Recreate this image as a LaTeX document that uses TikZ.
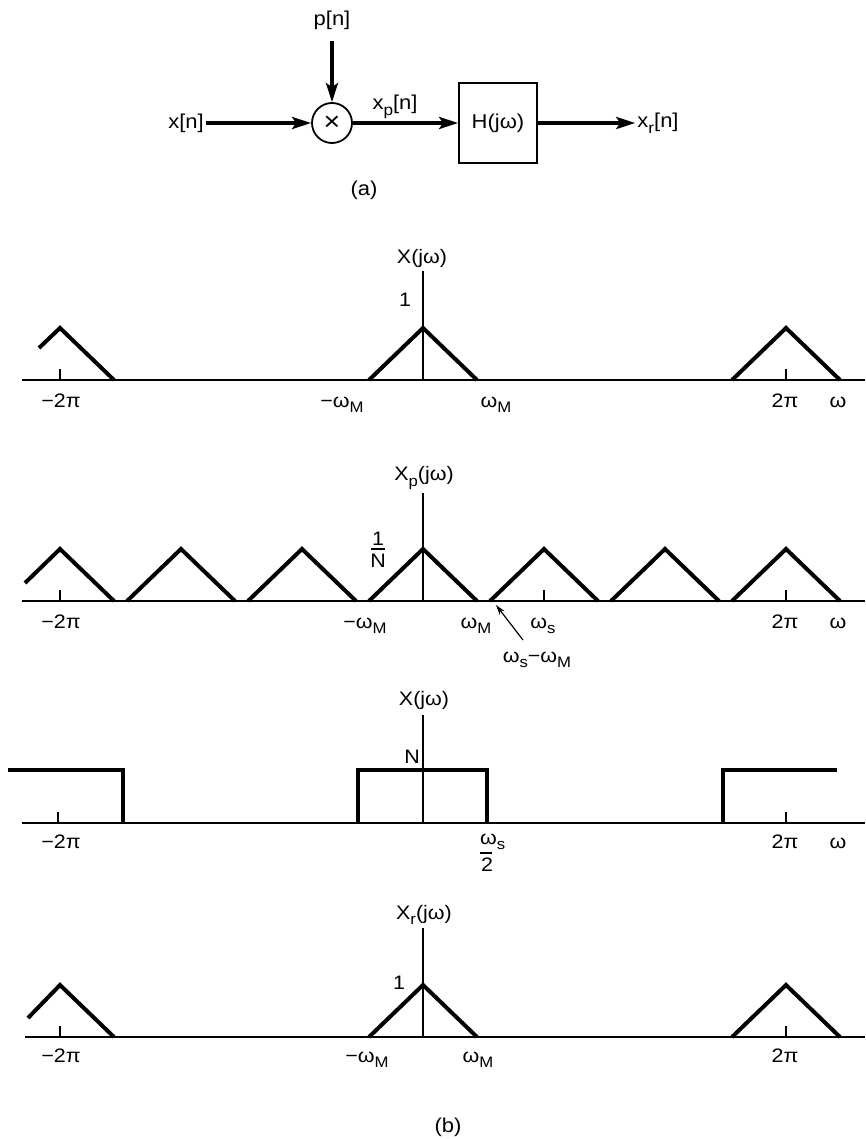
\documentclass[tikz,border=0pt]{standalone}
\usepackage{fontspec}
\setmainfont[FakeStretch=1.1]{Liberation Sans}
\usetikzlibrary{arrows.meta}
\newcommand{\sbs}[1]{\raisebox{-0.28em}{\scalebox{0.78}{#1}}}
\begin{document}
\begin{tikzpicture}[x=1pt,y=-1pt,
  lbl/.style={font=\fontsize{19.5}{22}\selectfont, inner sep=1pt},
  blbl/.style={font=\fontsize{20}{23}\selectfont, inner sep=2pt},
  bigarrow/.style={line width=3.6pt, -{Stealth[length=19pt,width=12pt,inset=4pt]}},
  curve/.style={line width=4pt, line join=miter, line cap=butt},
  axisline/.style={line width=2.2pt},
  vaxis/.style={line width=1.4pt},
  tick/.style={line width=1.4pt},
  fracbar/.style={line width=1.6pt},
  ptr/.style={line width=1.2pt, -{Stealth[length=10pt,width=6pt]}}]
\useasboundingbox (0,0) rectangle (865,1139);

% ---------------- (a) block diagram ----------------
\node[blbl] (xin) at (186,123) {x[n]};
\node[circle, draw, line width=1.8pt, minimum size=40, inner sep=0pt] (mult) at (332,123) {\fontsize{26}{26}\selectfont ×};
\node[blbl] (pin) at (332,20) {p[n]};
\node[draw, line width=1.8pt, minimum width=78, minimum height=80, blbl] (H) at (498,123) {H(jω)};
\node[blbl] (xr) at (658,123) {x\sbs{r}[n]};
\node[blbl] (xplbl) at (395,107) {x\sbs{p}[n]};
\node[blbl] (alab) at (364,190) {(a)};
\draw[bigarrow] (xin) -- (mult);
\draw[bigarrow, shorten <=9pt] (pin) -- (mult);
\draw[bigarrow] (mult) -- (H);
\draw[bigarrow] (H) -- (xr);

% ---------------- plot 1 : X(jw) ----------------
\draw[axisline] (22,380) -- (865,380);
\draw[vaxis] (423,380) -- (423,271);
\draw[tick] (60,380) -- (60,369);
\draw[tick] (786,380) -- (786,369);
\draw[curve] (39,348) -- (60,328) -- (114,380);
\draw[curve] (369,380) -- (423,328) -- (477,380);
\draw[curve] (732,380) -- (786,328) -- (840,380);
\node[lbl] (t1) at (422,258) {X(jω)};
\node[lbl] (o1) at (405,300) {1};
\node[lbl, anchor=base] (a1) at (61,407) {−2π};
\node[lbl, anchor=base] (b1) at (342,407) {−ω\sbs{M}};
\node[lbl, anchor=base] (c1) at (496,407) {ω\sbs{M}};
\node[lbl, anchor=base] (d1) at (785,407) {2π};
\node[lbl, anchor=base] (e1) at (838,407) {ω};

% ---------------- plot 2 : Xp(jw) ----------------
\draw[axisline] (22,601) -- (865,601);
\draw[vaxis] (423,601) -- (423,493);
\draw[tick] (60,601) -- (60,590);
\draw[tick] (544,601) -- (544,590);
\draw[tick] (786,601) -- (786,590);
\draw[curve] (25,583) -- (60,549) -- (114,601);
\foreach \c in {181,302,423,544,665,786}
  \draw[curve] ({\c-54},601) -- (\c,549) -- ({\c+54},601);
\node[lbl] (t2) at (424,478) {X\sbs{p}(jω)};
\node[lbl] (o2num) at (378,539) {1};
\node[lbl] (o2den) at (378,561) {N};
\draw[fracbar] (371,549) -- (385,549);
\node[lbl, anchor=base] (a2) at (61,628) {−2π};
\node[lbl, anchor=base] (b2) at (365,628) {−ω\sbs{M}};
\node[lbl, anchor=base] (c2) at (476,628) {ω\sbs{M}};
\node[lbl, anchor=base] (s2) at (543,628) {ω\sbs{s}};
\node[lbl, anchor=base] (d2) at (785,628) {2π};
\node[lbl, anchor=base] (e2) at (838,628) {ω};
\node[lbl, anchor=base] (f2) at (537,662) {ω\sbs{s}−ω\sbs{M}};
\coordinate (f2tip) at (496,605);
\draw[ptr] (523,640) -- (f2tip);

% ---------------- plot 3 : H(jw) ----------------
\draw[axisline] (22,823) -- (865,823);
\draw[vaxis] (423,823) -- (423,715);
\draw[tick] (58,823) -- (58,812);
\draw[tick] (786,823) -- (786,812);
\draw[curve] (8,770) -- (123,770) -- (123,823);
\draw[curve] (358,823) -- (358,770) -- (487,770) -- (487,823);
\draw[curve] (723,823) -- (723,770) -- (837,770);
\node[lbl] (t3) at (424,700) {X(jω)};
\node[lbl] (n3) at (412,757) {N};
\node[lbl, anchor=base] (a3) at (61,848) {−2π};
\node[lbl, anchor=base west] (w3num) at (479,844) {ω\sbs{s}};
\draw[fracbar] (480,853) -- (492,853);
\node[lbl] (w3den) at (487,865) {2};
\node[lbl, anchor=base] (d3) at (785,848) {2π};
\node[lbl, anchor=base] (e3) at (838,848) {ω};

% ---------------- plot 4 : Xr(jw) ----------------
\draw[axisline] (25,1037) -- (865,1037);
\draw[vaxis] (423,1037) -- (423,928);
\draw[tick] (60,1037) -- (60,1026);
\draw[tick] (786,1037) -- (786,1026);
\draw[curve] (28,1018) -- (60,985) -- (114,1037);
\draw[curve] (369,1037) -- (423,985) -- (477,1037);
\draw[curve] (732,1037) -- (786,985) -- (840,1037);
\node[lbl] (t4) at (424,915) {X\sbs{r}(jω)};
\node[lbl] (o4) at (399,983) {1};
\node[lbl, anchor=base] (a4) at (61,1062) {−2π};
\node[lbl, anchor=base] (b4) at (367,1062) {−ω\sbs{M}};
\node[lbl, anchor=base] (c4) at (478,1062) {ω\sbs{M}};
\node[lbl, anchor=base] (d4) at (785,1062) {2π};
\node[blbl] (blab) at (448,1127) {(b)};
\end{tikzpicture}
\end{document}
